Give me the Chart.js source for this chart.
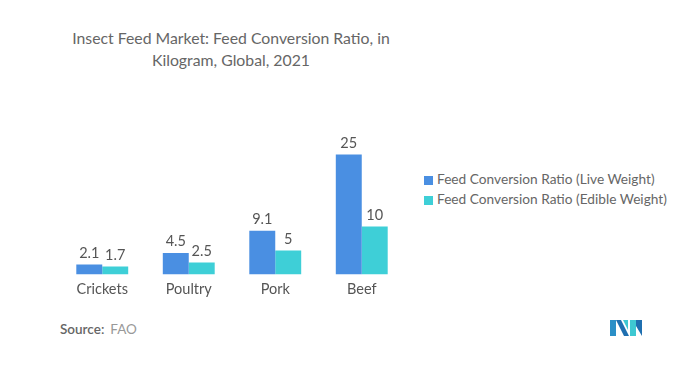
<!DOCTYPE html>
<html>
<head>
<meta charset="utf-8">
<script src="https://cdn.jsdelivr.net/npm/chart.js@4"></script>
<style>
  html, body { margin: 0; padding: 0; background: #fff; }
  body { width: 700px; height: 369px; position: relative; overflow: hidden; font-family: Lato, sans-serif; color: #666; }
  #title { position: absolute; left: 31px; width: 400px; top: 27px; text-align: center; font-size: 15.8px; line-height: 22px; color: #666; white-space: nowrap; }
  #chartBox { position: absolute; left: 0; top: 130px; width: 420px; height: 174px; }
  #legend { position: absolute; left: 424px; top: 170px; font-size: 13.7px; color: #666; }
  #legend div { height: 20px; line-height: 17px; white-space: nowrap; }
  #legend span { display: inline-block; width: 9px; height: 9px; margin-right: 4px; vertical-align: -1px; }
  #source { position: absolute; left: 60px; top: 321px; font-size: 13.5px; color: #999; }
  #source b { color: #666; font-weight: 600; margin-right: 6px; }
  #logo { position: absolute; left: 610px; top: 320px; }
</style>
</head>
<body>
<div id="title">Insect Feed Market: Feed Conversion Ratio, in<br>Kilogram, Global, 2021</div>
<div id="chartBox"><canvas id="fcrChart"></canvas></div>
<div id="legend"></div>
<div id="source"><b>Source:</b>FAO</div>
<svg id="logo" width="32" height="16" viewBox="0 0 32 16">
  <polygon points="0,0 6,0 6,16 0,16" fill="#2a8fc7"/>
  <polygon points="6,0 11,0 19,16 14,16" fill="#1f6fb0"/>
  <polygon points="13,0 18,0 18,10" fill="#3ec8d2"/>
  <polygon points="20,0 26,0 26,16 20,16" fill="#3ec8d2"/>
  <polygon points="26,0 26,6 32,16 32,0" fill="#1f6fb0"/>
</svg>
<script>
const categories = ['Crickets', 'Poultry', 'Pork', 'Beef'];
const liveWeight = [2.1, 4.5, 9.1, 25];
const edibleWeight = [1.7, 2.5, 5, 10];
const seriesNames = ['Feed Conversion Ratio (Live Weight)', 'Feed Conversion Ratio (Edible Weight)'];
const seriesColors = ['#4a8fe2', '#3ecfd7'];

// legend as plain html
const legendEl = document.getElementById('legend');
seriesNames.forEach((name, i) => {
  const row = document.createElement('div');
  row.innerHTML = '<span style="background:' + seriesColors[i] + '"></span>' + name;
  legendEl.appendChild(row);
});

// value labels on top of each bar
const valueLabels = {
  id: 'valueLabels',
  afterDatasetsDraw(chart) {
    const ctx = chart.ctx;
    ctx.save();
    ctx.font = '14.5px Lato, sans-serif';
    ctx.fillStyle = '#555';
    ctx.textAlign = 'center';
    ctx.textBaseline = 'bottom';
    chart.data.datasets.forEach((ds, di) => {
      chart.getDatasetMeta(di).data.forEach((bar, i) => {
        ctx.fillText(String(ds.data[i]), bar.x, bar.y - 4);
      });
    });
    ctx.restore();
  }
};

new Chart(document.getElementById('fcrChart').getContext('2d'), {
  type: 'bar',
  data: {
    labels: categories,
    datasets: [
      { label: seriesNames[0], data: liveWeight, backgroundColor: seriesColors[0] },
      { label: seriesNames[1], data: edibleWeight, backgroundColor: seriesColors[1] }
    ]
  },
  options: {
    responsive: true,
    maintainAspectRatio: false,
    animation: false,
    layout: { padding: { left: 59, right: 15, top: 10, bottom: 0 } },
    datasets: { bar: { categoryPercentage: 0.6, barPercentage: 1.0 } },
    plugins: {
      legend: { display: false },
      tooltip: { enabled: false }
    },
    scales: {
      x: {
        grid: { display: false, drawTicks: false },
        border: { display: false },
        ticks: { color: '#555', font: { family: 'Lato, sans-serif', size: 14.5 }, padding: 6 }
      },
      y: {
        display: false,
        min: 0,
        max: 28
      }
    }
  },
  plugins: [valueLabels]
});
</script>
</body>
</html>
